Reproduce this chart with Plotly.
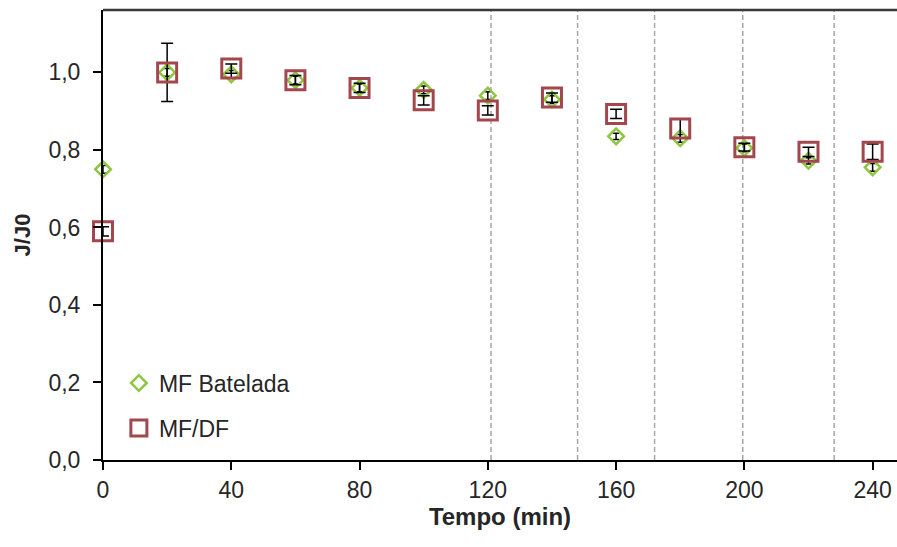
import plotly.graph_objects as go

# ---- data ----
tempo = [0, 20, 40, 60, 80, 100, 120, 140, 160, 180, 200, 220, 240]
mf_batelada = [0.75, 1.00, 0.995, 0.98, 0.96, 0.955, 0.94, 0.93, 0.835, 0.83, 0.805, 0.772, 0.755]
mf_batelada_err = [0.01, 0.01, 0.01, 0.01, 0.01, 0.01, 0.01, 0.01, 0.008, 0.01, 0.01, 0.008, 0.01]
mf_df = [0.59, 1.00, 1.01, 0.98, 0.96, 0.928, 0.902, 0.935, 0.893, 0.855, 0.807, 0.795, 0.795]
mf_df_err = [0.012, 0.075, 0.012, 0.012, 0.012, 0.012, 0.012, 0.012, 0.012, 0.025, 0.01, 0.012, 0.02]
diafiltration_marks = [121, 148, 172, 199.5, 228]

x_range = [0, 247.6]
y_range = [0, 1.161]

FONT = "Liberation Sans, Arial, sans-serif"
GREEN = "#8DC641"
RED = "#A3474F"
TXT = "#262626"

fig = go.Figure()

fig.add_trace(go.Scatter(
    x=tempo, y=mf_batelada, mode="markers", name="MF Batelada", cliponaxis=False,
    marker=dict(symbol="diamond-open", size=12, color=GREEN, line=dict(width=2.5, color=GREEN)),
    error_y=dict(type="data", array=mf_batelada_err, visible=True, color="black", thickness=1.5, width=3),
    legend="legend",
))
fig.add_trace(go.Scatter(
    x=tempo, y=mf_df, mode="markers", name="MF/DF", cliponaxis=False,
    marker=dict(symbol="square-open", size=19, color=RED, line=dict(width=3, color=RED)),
    error_y=dict(type="data", array=mf_df_err, visible=True, color="black", thickness=1.5, width=6),
    legend="legend2",
))

shapes = []
for xv in diafiltration_marks:
    shapes.append(dict(type="line", xref="x", yref="paper", x0=xv, x1=xv, y0=0, y1=1,
                       line=dict(color="#A6A6A6", width=1.5, dash="5px,3px"), layer="below"))
# top border
shapes.append(dict(type="line", xref="paper", yref="paper", x0=0, x1=1, y0=1, y1=1,
                   line=dict(color="#3a3a3a", width=2.5)))

fig.update_layout(
    width=897, height=547,
    margin=dict(l=103, r=0, t=10, b=87),
    paper_bgcolor="white", plot_bgcolor="white",
    separators=",.",
    font=dict(family=FONT, size=23, color=TXT),
    shapes=shapes,
    showlegend=True,
    legend=dict(x=0.02, y=0.171, xanchor="left", yanchor="middle", bgcolor="rgba(0,0,0,0)",
                font=dict(size=23, family=FONT, color=TXT), itemwidth=30),
    legend2=dict(x=0.02, y=0.071, xanchor="left", yanchor="middle", bgcolor="rgba(0,0,0,0)",
                 font=dict(size=23, family=FONT, color=TXT), itemwidth=30),
    xaxis=dict(
        range=x_range, tickmode="array", tickvals=[0, 40, 80, 120, 160, 200, 240],
        showgrid=False, zeroline=False, showline=True, linecolor="black", linewidth=2,
        ticks="outside", ticklen=8, tickwidth=1.5, tickcolor="black",
        title=dict(text="<b>Tempo (min)</b>", font=dict(size=24, family=FONT, color=TXT), standoff=4),
    ),
    yaxis=dict(
        range=y_range, tickmode="array", tickvals=[0, 0.2, 0.4, 0.6, 0.8, 1.0], tickformat=".1f",
        showgrid=False, zeroline=False, showline=True, linecolor="black", linewidth=2,
        ticks="outside", ticklen=8, tickwidth=1.5, tickcolor="black", ticklabelstandoff=8,
        title=dict(text="<b>J/J0</b>", font=dict(size=22, family=FONT, color=TXT), standoff=12),
    ),
)

fig.write_html("out.html")
